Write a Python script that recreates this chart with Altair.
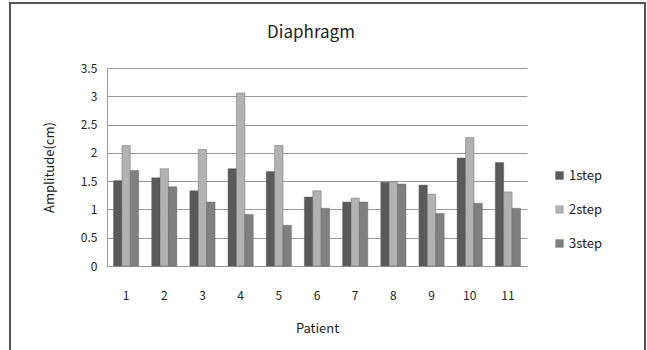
import altair as alt
import pandas as pd

patients = [str(i) for i in range(1, 12)]
step1 = [1.51, 1.56, 1.33, 1.72, 1.67, 1.22, 1.13, 1.48, 1.43, 1.91, 1.83]
step2 = [2.13, 1.72, 2.06, 3.06, 2.13, 1.33, 1.20, 1.48, 1.27, 2.27, 1.31]
step3 = [1.69, 1.40, 1.13, 0.91, 0.72, 1.02, 1.13, 1.45, 0.93, 1.11, 1.02]
series = ["1step", "2step", "3step"]
colors = ["#5a5a5a", "#b2b2b2", "#808080"]

rows = []
for name, vals in zip(series, [step1, step2, step3]):
    for p, v in zip(patients, vals):
        rows.append({"Patient": p, "Step": name, "Amplitude": v})
df = pd.DataFrame(rows)

FONT = "Noto Sans CJK KR"

bars = alt.Chart(df).mark_bar(stroke="#555555", strokeWidth=0.4).encode(
    x=alt.X("Patient:N", sort=patients,
            scale=alt.Scale(paddingInner=0.34, paddingOuter=0.17),
            axis=alt.Axis(title="Patient", labelAngle=0, labelPadding=24,
                          titlePadding=21, ticks=False, domainColor="#999999",
                          labelFont=FONT, labelFontSize=12, labelColor="#222222",
                          titleFont=FONT, titleFontSize=13, titleFontWeight="normal",
                          titleColor="#222222")),
    xOffset=alt.XOffset("Step:N", sort=series, scale=alt.Scale(paddingInner=0, paddingOuter=0)),
    y=alt.Y("Amplitude:Q",
            scale=alt.Scale(domain=[0, 3.5], nice=False),
            axis=alt.Axis(title="Amplitude(cm)", values=[0, 0.5, 1, 1.5, 2, 2.5, 3, 3.5],
                          labelExpr="datum.value == 0 ? '0' : datum.value + ''",
                          ticks=False, labelPadding=10, domainColor="#999999",
                          gridColor="#999999", gridWidth=1.2,
                          labelFont=FONT, labelFontSize=12, labelColor="#222222",
                          titleFont=FONT, titleFontSize=13, titleFontWeight="normal",
                          titleColor="#222222", titlePadding=24)),
    color=alt.Color("Step:N", sort=series,
                    scale=alt.Scale(domain=series, range=colors),
                    legend=alt.Legend(title=None, orient="none", legendX=446, legendY=101,
                                      symbolType="square", symbolSize=70,
                                      symbolStrokeWidth=0, rowPadding=20,
                                      labelFont=FONT, labelFontSize=13,
                                      labelColor="#222222", labelOffset=3)),
)

frame = alt.Chart(pd.DataFrame({"a": [0]})).mark_rect(
    fill=None, stroke="#555555", strokeWidth=2
).encode(
    x=alt.value(-97), x2=alt.value(538), y=alt.value(-65), y2=alt.value(300)
)

chart = alt.layer(frame, bars).properties(
    width=420, height=198,
    title=alt.TitleParams("Diaphragm", font=FONT, fontSize=17, fontWeight="normal",
                          color="#222222", offset=20, dy=60, dx=-6),
    padding={"left": 107, "top": 68, "right": 120, "bottom": 84},
    autosize=alt.AutoSizeParams(type="none"),
    background="white",
).configure_view(stroke=None)

chart.save("out.html", embed_options={"renderer": "svg", "actions": False})
